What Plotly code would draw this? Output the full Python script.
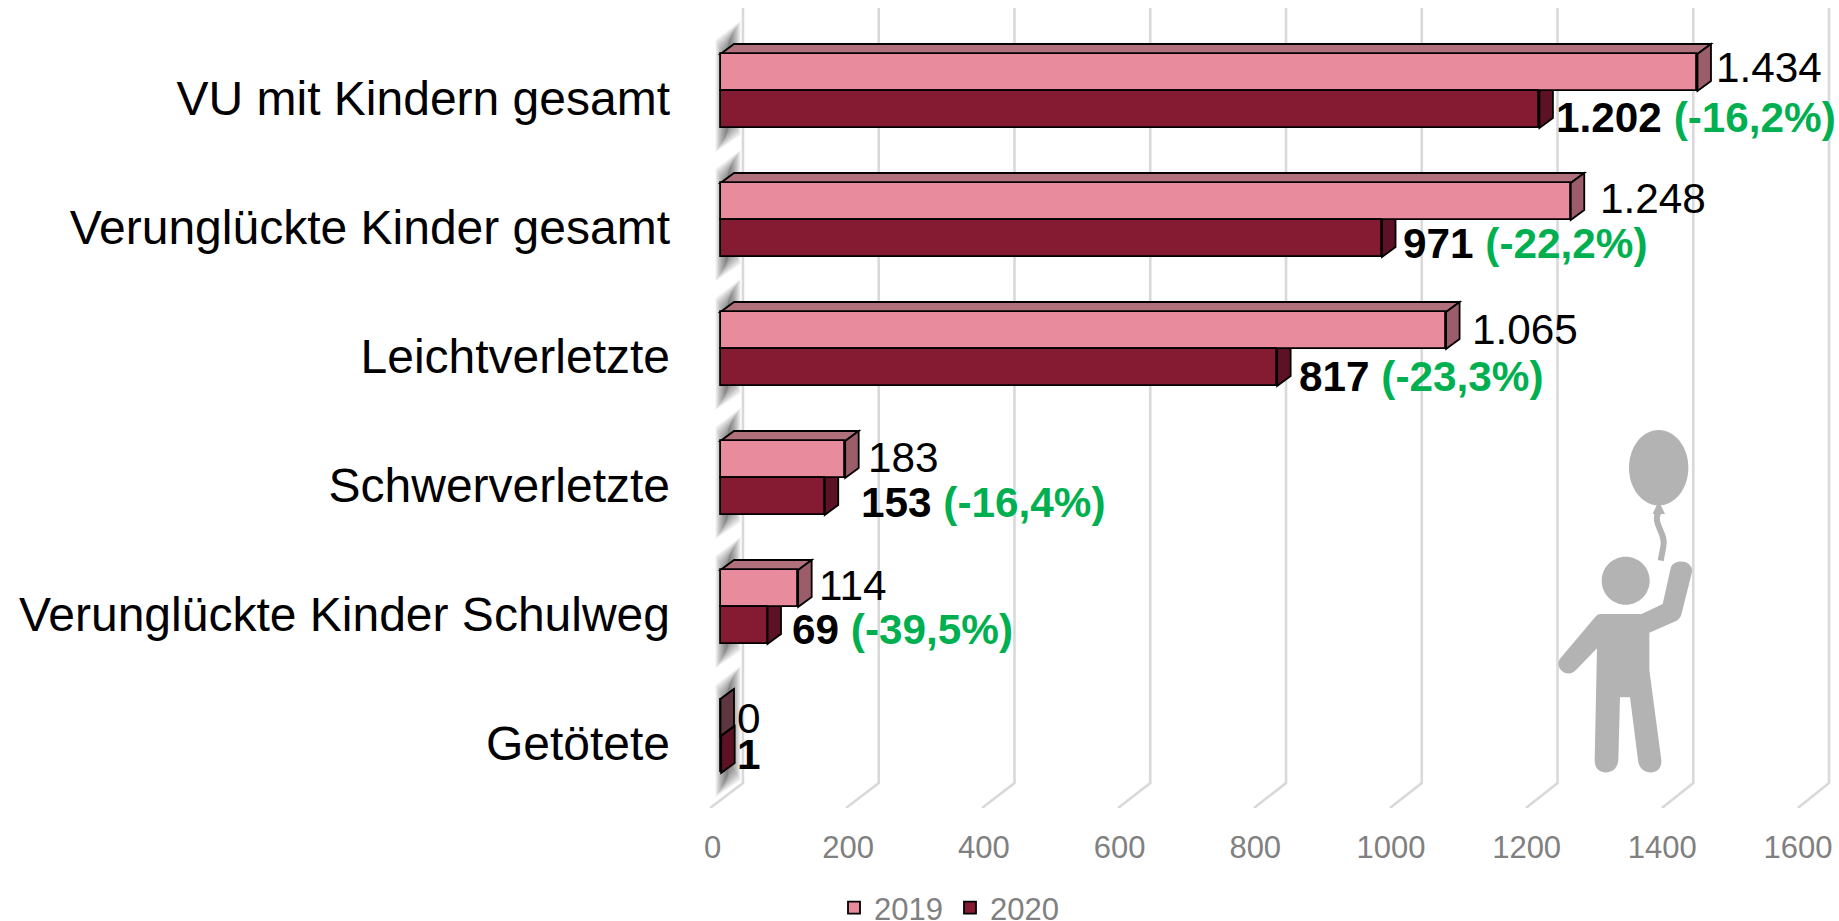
import plotly.graph_objects as go

# ---- data ----
categories = ["VU mit Kindern gesamt", "Verunglückte Kinder gesamt", "Leichtverletzte",
              "Schwerverletzte", "Verunglückte Kinder Schulweg", "Getötete"]
values_2019 = [1434, 1248, 1065, 183, 114, 0]
values_2020 = [1202, 971, 817, 153, 69, 1]
change_2020 = ["(-16,2%)", "(-22,2%)", "(-23,3%)", "(-16,4%)", "(-39,5%)", ""]
x_ticks = [0, 200, 400, 600, 800, 1000, 1200, 1400, 1600]

# ---- label nudges (pixels) ----
gap_2019 = [17.6, 28, 25, 22, 20, 15.5]
gap_2020 = [16, 20, 20.5, 35, 23.5, 14.5]
dy_2019 = [-5, -3.5, -1.5, -2.5, -3.5, 0.5]
dy_2020 = [8, 4.5, 9, 6, 3.5, 0]

# ---- geometry ----
W, H = 1839, 921
PL, PB = 690, 808          # plot left, plot bottom in pixels
X0, XS = 720.5, 0.6813     # pixel of value 0, pixels per unit
Y0, YS = 98.0, 129.0       # pixel of first category, pixels per category
xpx = lambda u: u / XS     # pixel distance -> x units
ypx = lambda u: u / YS     # pixel distance -> category units
BAR_H = ypx(37)
OFF_19, OFF_20 = ypx(-44), ypx(-7)
DX, DY = xpx(13.5), ypx(10)
TICK_SCALE = 0.9958        # the printed scale runs slightly tighter than the bars

C19, C20 = "#E88B9C", "#851B32"
TOP19, SIDE19, SIDE19_DARK, SIDE20 = "#B0707C", "#9B5D6A", "#5E3640", "#5C1224"
GRID, AXTXT, GREEN, ICON = "#D9D9D9", "#808080", "#00B050", "#B3B3B3"
FONT = "Liberation Sans"

shapes = []

# back-wall gridlines with the slanted floor segment
y_top = (8 - Y0) / YS
y_back = (783 - Y0) / YS
y_front = (808 - Y0) / YS
for t in x_ticks:
    shapes.append(dict(type="path", xref="x", yref="y", layer="below",
                       path=f"M{t*0.998-15.4},{y_front} L{t*0.9963+33},{y_back} L{t*0.9963+33},{y_top}",
                       line=dict(color=GRID, width=2.6)))

# soft shadow at the root of each bar group
for i in range(len(categories)):
    top = i + OFF_19
    bot = i + OFF_20 + BAR_H
    for k in range(13):
        ins = k * 1.0
        xl, xr = xpx(-5 + ins), xpx(20 - ins)
        t_l, b_l = top + ypx(-14 + ins * 1.5), bot + ypx(24 - ins * 1.5)
        t_r, b_r = top + ypx(-33 + ins * 1.5), bot + ypx(7 - ins * 1.5)
        shapes.append(dict(type="path", xref="x", yref="y", layer="below",
                           path=f"M{xl},{t_l} L{xr},{t_r} L{xr},{b_r} L{xl},{b_l} Z",
                           fillcolor="rgba(60,60,60,0.075)", line=dict(width=0)))

# 3D faces derived from the values
edge = dict(color="#000000", width=1.8)
for i, (a, b) in enumerate(zip(values_2019, values_2020)):
    t19 = i + OFF_19
    m = t19 + BAR_H
    t20 = i + OFF_20
    b20 = t20 + BAR_H
    # 2020 side
    shapes.append(dict(type="path", xref="x", yref="y", layer="below",
                       path=f"M{b},{t20} L{b+DX},{t20-DY} L{b+DX},{b20-DY} L{b},{b20} Z",
                       fillcolor=SIDE20, line=edge))
    # 2019 top
    shapes.append(dict(type="path", xref="x", yref="y", layer="below",
                       path=f"M0,{t19} L{DX},{t19-DY} L{a+DX},{t19-DY} L{a},{t19} Z",
                       fillcolor=TOP19, line=edge))
    # 2019 side
    shapes.append(dict(type="path", xref="x", yref="y", layer="below",
                       path=f"M{a},{t19} L{a+DX},{t19-DY} L{a+DX},{m-DY} L{a},{m} Z",
                       fillcolor=SIDE19 if a > 0 else SIDE19_DARK, line=edge))


# ---- pictogram (paper coordinates) ----
def zx(v):
    return (1500 + v / 3 - PL) / (W - PL)


def zy(v):
    return 1 - (410 + v / 3) / PB


def pic_path(cmds):
    out = []
    for c, pts in cmds:
        out.append(c + " ".join(f"{zx(x)},{zy(y)}" for x, y in pts))
    return " ".join(out)


def ellipse(cx, cy, rx, ry):
    k = 0.5523
    return pic_path([
        ("M", [(cx - rx, cy)]),
        ("C", [(cx - rx, cy - k * ry), (cx - k * rx, cy - ry), (cx, cy - ry)]),
        ("C", [(cx + k * rx, cy - ry), (cx + rx, cy - k * ry), (cx + rx, cy)]),
        ("C", [(cx + rx, cy + k * ry), (cx + k * rx, cy + ry), (cx, cy + ry)]),
        ("C", [(cx - k * rx, cy + ry), (cx - rx, cy + k * ry), (cx - rx, cy)]),
    ]) + " Z"


body = pic_path([
    ("M", [(300, 612)]), ("L", [(425, 612)]), ("L", [(488, 582)]), ("L", [(512, 475)]),
    ("C", [(520, 442), (585, 450), (575, 490)]), ("L", [(545, 610)]),
    ("Q", [(542, 625), (530, 632)]), ("L", [(448, 668)]), ("L", [(448, 780)]),
    ("L", [(484, 1050)]), ("C", [(488, 1100), (418, 1100), (414, 1050)]),
    ("L", [(390, 862)]), ("L", [(360, 862)]), ("L", [(355, 1050)]),
    ("C", [(352, 1100), (282, 1100), (284, 1050)]), ("L", [(291, 715)]),
    ("L", [(228, 780)]), ("C", [(200, 810), (155, 770), (185, 740)]),
    ("L", [(285, 622)]), ("Q", [(292, 612), (300, 612)]),
]) + " Z"
knot = pic_path([("M", [(476, 272)]), ("L", [(495, 312)]), ("L", [(458, 312)])]) + " Z"
string = pic_path([("M", [(476, 305)]), ("C", [(455, 340), (500, 370), (490, 410)]), ("L", [(482, 452)])])

for p in (ellipse(476, 173, 89, 113), ellipse(377, 512, 72, 72), body, knot):
    shapes.append(dict(type="path", xref="paper", yref="paper", layer="above", path=p,
                       fillcolor=ICON, line=dict(width=0)))
shapes.append(dict(type="path", xref="paper", yref="paper", layer="above", path=string,
                   line=dict(color=ICON, width=6)))

# ---- figure ----
fig = go.Figure()
fig.add_trace(go.Bar(name="2019", y=categories, x=values_2019, orientation="h",
                     width=BAR_H, offset=OFF_19,
                     marker=dict(color=C19, line=dict(color="#000000", width=1.8))))
fig.add_trace(go.Bar(name="2020", y=categories, x=values_2020, orientation="h",
                     width=BAR_H, offset=OFF_20,
                     marker=dict(color=C20, line=dict(color="#000000", width=1.8))))

annotations = []
for i in range(len(categories)):
    annotations.append(dict(
        x=values_2019[i], y=i + OFF_19 + BAR_H / 2, xref="x", yref="y", xanchor="left", yanchor="middle",
        xshift=gap_2019[i], yshift=-dy_2019[i], showarrow=False,
        text=f"{values_2019[i]:,}".replace(",", "."),
        font=dict(family=FONT, size=42.3, color="#000000"), borderpad=0))
    pct = f' <span style="color:{GREEN}"><b>{change_2020[i]}</b></span>' if change_2020[i] else ""
    annotations.append(dict(
        x=values_2020[i], y=i + OFF_20 + BAR_H / 2, xref="x", yref="y", xanchor="left", yanchor="middle",
        xshift=gap_2020[i], yshift=-dy_2020[i], showarrow=False,
        text=f"<b>{values_2020[i]:,}</b>".replace(",", ".") + pct,
        font=dict(family=FONT, size=42.3, color="#000000"), borderpad=0))

fig.update_layout(
    width=W, height=H, autosize=False,
    margin=dict(l=PL, r=0, t=0, b=H - PB, pad=0, autoexpand=False),
    paper_bgcolor="#FFFFFF", plot_bgcolor="#FFFFFF",
    barmode="overlay", bargap=0,
    font=dict(family=FONT),
    shapes=shapes, annotations=annotations,
    xaxis=dict(range=[(PL - X0) / XS, (W - X0) / XS],
               tickvals=[t * TICK_SCALE for t in x_ticks], ticktext=[str(t) for t in x_ticks],
               showgrid=False, zeroline=False, showline=False, ticks="",
               ticklabelshift=-8, ticklabelstandoff=18,
               tickfont=dict(family=FONT, size=31, color=AXTXT)),
    yaxis=dict(type="category", categoryorder="array", categoryarray=categories,
               range=[(PB - Y0) / YS, -Y0 / YS], showgrid=False, zeroline=False, showline=False,
               ticks="", dtick=1, ticklabelstandoff=19,
               tickfont=dict(family=FONT, size=48, color="#000000")),
    legend=dict(orientation="h", x=(834 - PL) / (W - PL), xanchor="left", y=1 - 881 / PB, yanchor="top",
                font=dict(family=FONT, size=31, color=AXTXT), bgcolor="rgba(0,0,0,0)",
                traceorder="normal", itemwidth=30, entrywidth=71, entrywidthmode="pixels"),
)

fig.write_html("out.html", config={"displayModeBar": False},
               post_script="document.body.style.margin='0';document.body.style.overflow='hidden';")
